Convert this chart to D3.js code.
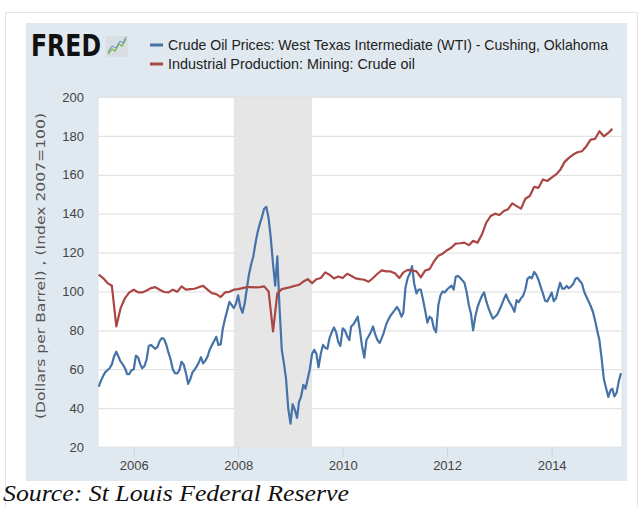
<!DOCTYPE html>
<html>
<head>
<meta charset="utf-8">
<script src="https://cdn.jsdelivr.net/npm/d3@7"></script>
<style>
  html, body { margin: 0; padding: 0; background: #fff; }
  svg { display: block; }
</style>
</head>
<body>
<div id="chart"></div>
<script>
// WTI crude at half-month steps (1st and 16th), May 2005 - May 2015
const oilStart = new Date(2005, 4, 1);
const oilPrices = [
  51, 54, 56.5, 58.5, 59.5, 60.5, 62.5, 66.5, 69, 66.5,
  64, 62.5, 60.5, 57.5, 57.5, 59.5, 60, 67, 66, 62.5,
  60.5, 61.5, 65, 72, 72.5, 71.5, 70.5, 71.5, 74.5, 76,
  75.5, 72.7, 68.5, 65, 60, 58, 57.8, 59.5, 63.8, 62.5,
  58, 52.5, 55, 58.5, 59.6, 61.3, 63.5, 66.2, 63, 64.3,
  66.5, 70, 72.3, 74.4, 76.7, 72.5, 72.8, 81, 85.8, 90,
  94.7, 93.1, 91.5, 93.5, 98, 92, 89, 94, 101, 108.5,
  114, 118, 124.8, 130.4, 134.9, 138.5, 142.5, 143.5, 137.6, 127.7,
  114, 103, 118, 92, 70, 63, 55, 40, 32, 42,
  39, 35, 43, 46, 52, 50, 55, 60, 68, 70,
  68, 61, 68, 72.5, 71, 70.5, 76, 79, 81.5, 79,
  74, 72, 81, 80, 77, 75, 82, 83, 85, 87,
  80, 72, 66, 75, 77, 79, 82, 78, 75, 73.5,
  76, 79, 83, 85.5, 87.5, 89, 90.5, 92, 90, 87,
  89, 102, 107, 109.4, 113, 104, 99, 101, 101, 96,
  90, 84, 87, 86, 81, 79, 93, 98, 100, 99.5,
  101, 102, 103, 101, 107.5, 108, 107, 105.8, 104.5, 100,
  93, 88.5, 80, 87, 92, 95, 97.8, 99.5, 95, 91.5,
  88.5, 86, 87, 88, 90.5, 93, 96, 98.5, 96, 94,
  92, 89.5, 95.5, 94.5, 96.5, 97.8, 101, 106.5, 107.5, 106.8,
  110, 108.5, 106, 102.5, 99, 95.2, 94.8, 97, 99.4, 95,
  96.5, 101, 104.5, 101.5, 101.5, 102.8, 101.7, 102.5, 103.8, 106.5,
  107, 105.5, 104, 100, 97.3, 95, 92.5, 89.7, 85, 79.8,
  75, 66, 55, 50.5, 45.8, 49, 50, 46, 48, 54,
  58
];

// Industrial production: mining: crude oil, monthly index, May 2005 - Mar 2015
const prodStart = new Date(2005, 4, 1);
const prodIndex = [
  108.6, 106.9, 104.3, 102.9, 82, 91.4, 96.6, 99.5, 100.9, 99.5,
  99.5, 100.5, 101.7, 102.2, 100.9, 99.7, 99.5, 100.9, 99.8, 102.6,
  100.9, 101.2, 101.4, 102.2, 102.9, 100.9, 99.1, 98.6, 97.1, 99.5,
  99.8, 100.9, 101.2, 101.7, 102.2, 102.2, 102.1, 102.2, 102.6, 100,
  79.4, 99.1, 101.2, 101.7, 102.2, 102.9, 103.4, 105.1, 106.3, 104.3,
  106.3, 106.9, 109.8, 108.6, 106.7, 107.7, 106.9, 109.1, 108.1, 106.7,
  106.3, 106, 105, 106.9, 109.1, 110.8, 110.3, 110.3, 109.4, 106.9,
  109.8, 111.1, 110.8, 110.3, 107.2, 110.8, 111.5, 115.4, 118.4, 119.4,
  121.2, 122.6, 124.6, 124.8, 125.1, 123.8, 126, 125.1, 129.4, 135.4,
  138.8, 140, 139.3, 141.4, 142.2, 145.3, 143.9, 142.6, 147.7, 149.1,
  153.8, 153.3, 157.6, 156.8, 158.5, 160.2, 162.4, 166.5, 168.7, 170.4,
  171.6, 172.1, 174.7, 178.1, 178.5, 182.4, 179.8, 181.5, 183.6
];

const recession = [new Date(2007, 11, 1), new Date(2009, 5, 1)];
const yTicks = [20, 40, 60, 80, 100, 120, 140, 160, 180, 200];
const xTickYears = [2006, 2008, 2010, 2012, 2014];

const legendNames = [
  "Crude Oil Prices: West Texas Intermediate (WTI) - Cushing, Oklahoma",
  "Industrial Production: Mining: Crude oil"
];
const legendWidths = [440, 247];
const seriesColors = ["#4572a7", "#aa4643"];
const yLabel = "(Dollars per Barrel) , (Index 2007=100)";
const sourceNote = "Source: St Louis Federal Reserve";

// build dated rows
const oilData = oilPrices.map((v, i) => {
  const month = d3.timeMonth.offset(oilStart, Math.floor(i / 2));
  const date = i % 2 === 0 ? month : new Date(month.getFullYear(), month.getMonth(), 16);
  return { date, value: v };
});
const prodData = prodIndex.map((v, i) => ({ date: d3.timeMonth.offset(prodStart, i), value: v }));

const width = 643, height = 507;
const plot = { left: 98, right: 622, top: 97, bottom: 447 };
const sans = "'Liberation Sans', Arial, sans-serif";

const svg = d3.select("#chart").append("svg")
  .attr("width", width)
  .attr("height", height);

// outer frame + FRED panel
svg.append("rect")
  .attr("x", 5.5).attr("y", 12.5)
  .attr("width", 632).attr("height", 520)
  .attr("fill", "#fff")
  .attr("stroke", "#e4e4e4");

svg.append("rect")
  .attr("x", 26).attr("y", 23)
  .attr("width", 601).attr("height", 458)
  .attr("fill", "#e1e9f0");

svg.append("rect")
  .attr("x", plot.left).attr("y", plot.top)
  .attr("width", plot.right - plot.left).attr("height", plot.bottom - plot.top)
  .attr("fill", "#fff")
  .attr("stroke", "#d8dfe6")
  .attr("stroke-width", 0.8);

const xScale = d3.scaleTime()
  .domain([new Date(2005, 3, 26), new Date(2015, 4, 8)])
  .range([plot.left, plot.right]);

const yScale = d3.scaleLinear()
  .domain([20, 200])
  .range([plot.bottom, plot.top]);

// recession shading
svg.append("rect")
  .attr("x", xScale(recession[0]))
  .attr("y", plot.top)
  .attr("width", xScale(recession[1]) - xScale(recession[0]))
  .attr("height", plot.bottom - plot.top)
  .attr("fill", "#e6e6e6");

// horizontal gridlines
const grid = svg.append("g")
  .attr("transform", `translate(${plot.left},0)`)
  .call(d3.axisLeft(yScale).tickValues(yTicks).tickFormat("").tickSize(-(plot.right - plot.left)));
grid.select(".domain").remove();
grid.selectAll("line").attr("stroke", "#e3e3e3").attr("stroke-width", 1.2);

// y axis labels
const yAxis = svg.append("g")
  .attr("transform", `translate(${plot.left},0)`)
  .call(d3.axisLeft(yScale).tickValues(yTicks).tickSize(0).tickPadding(14));
yAxis.select(".domain").remove();
yAxis.selectAll("text")
  .attr("fill", "#444")
  .style("font-family", sans)
  .style("font-size", "13px");

// x axis
const xAxis = svg.append("g")
  .attr("transform", `translate(0,${plot.bottom})`)
  .call(d3.axisBottom(xScale)
    .tickValues(xTickYears.map(y => new Date(y, 0, 1)))
    .tickFormat(d3.timeFormat("%Y"))
    .tickSize(10)
    .tickPadding(4));
xAxis.select(".domain").remove();
xAxis.selectAll("line").attr("stroke", "#cdd6df");
xAxis.selectAll("text")
  .attr("fill", "#444")
  .style("font-family", sans)
  .style("font-size", "13px");

// y axis title
svg.append("text")
  .attr("transform", `translate(45,${(plot.top + plot.bottom) / 2 - 6}) rotate(-90)`)
  .attr("text-anchor", "middle")
  .attr("textLength", 306)
  .attr("lengthAdjust", "spacingAndGlyphs")
  .attr("fill", "#555")
  .style("font-family", "'DejaVu Sans', sans-serif")
  .style("font-size", "13px")
  .text(yLabel);

// series
svg.append("clipPath").attr("id", "plot-clip")
  .append("rect")
  .attr("x", plot.left).attr("y", plot.top)
  .attr("width", plot.right - plot.left).attr("height", plot.bottom - plot.top);

const line = d3.line()
  .x(d => xScale(d.date))
  .y(d => yScale(d.value));

const series = [oilData, prodData];
svg.append("g")
  .attr("clip-path", "url(#plot-clip)")
  .selectAll("path")
  .data(series)
  .join("path")
  .attr("d", line)
  .attr("fill", "none")
  .attr("stroke", (d, i) => seriesColors[i])
  .attr("stroke-width", 2.2)
  .attr("stroke-linejoin", "round");

// FRED logo
svg.append("text")
  .attr("x", 31).attr("y", 56)
  .attr("textLength", 70)
  .attr("lengthAdjust", "spacingAndGlyphs")
  .attr("fill", "#111")
  .style("font-family", "'DejaVu Sans', sans-serif")
  .style("font-weight", "bold")
  .style("font-size", "30px")
  .text("FRED");

const icon = svg.append("g").attr("transform", "translate(106,36)");
icon.append("rect").attr("width", 22).attr("height", 21).attr("fill", "#d9dee3");
icon.append("polyline")
  .attr("points", "2,18 6,13 9,15 13,8 16,10 20,3")
  .attr("fill", "none").attr("stroke", "#7ab648").attr("stroke-width", 1.3);
icon.append("polyline")
  .attr("points", "2,16 6,10 10,12 14,5 17,7 20,1")
  .attr("fill", "none").attr("stroke", "#5b8bc4").attr("stroke-width", 1);

// legend
const legend = svg.append("g");
legendNames.forEach((name, i) => {
  const y = 45 + i * 19;
  legend.append("line")
    .attr("x1", 150).attr("x2", 163)
    .attr("y1", y).attr("y2", y)
    .attr("stroke", seriesColors[i])
    .attr("stroke-width", 3);
  legend.append("text")
    .attr("x", 168).attr("y", y + 5)
    .attr("textLength", legendWidths[i])
    .attr("lengthAdjust", "spacingAndGlyphs")
    .attr("fill", "#222")
    .style("font-family", sans)
    .style("font-size", "14.5px")
    .text(name);
});

// source note
svg.append("text")
  .attr("x", 3).attr("y", 501)
  .attr("textLength", 346)
  .attr("lengthAdjust", "spacingAndGlyphs")
  .attr("fill", "#111")
  .style("font-family", "'Liberation Serif', 'Times New Roman', serif")
  .style("font-style", "italic")
  .style("font-size", "24px")
  .text(sourceNote);
</script>
</body>
</html>
